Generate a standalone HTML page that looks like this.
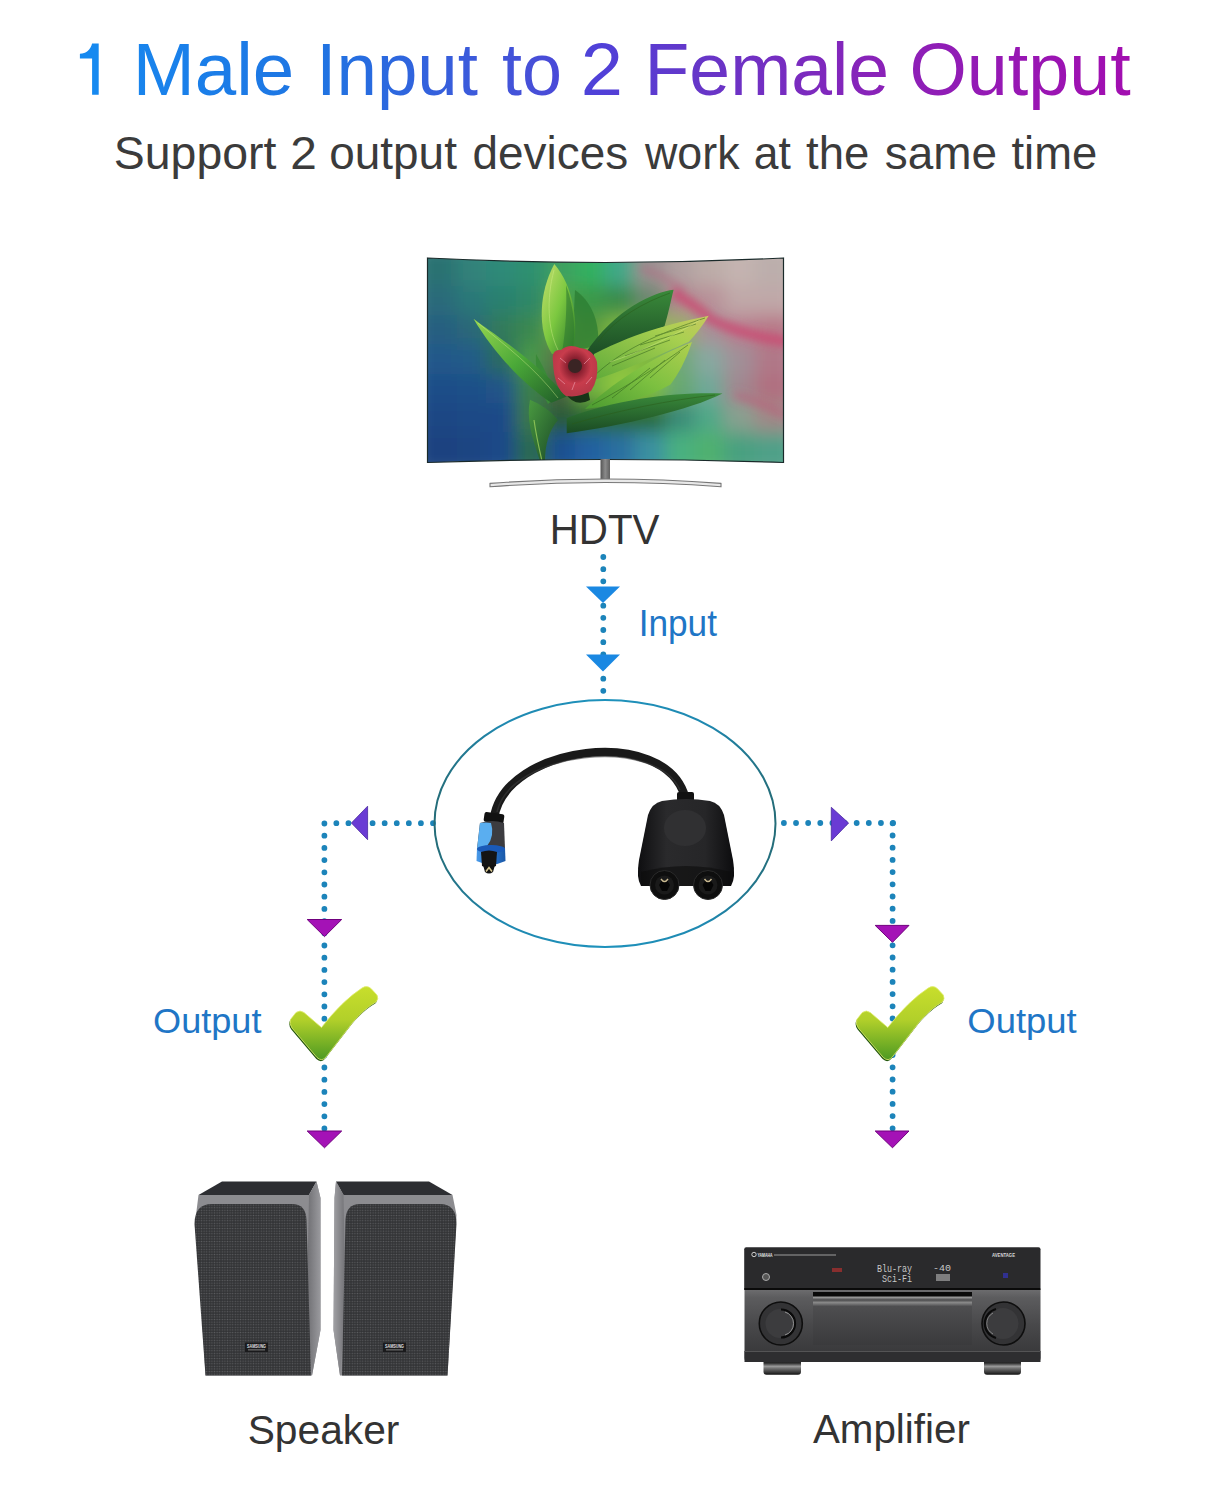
<!DOCTYPE html>
<html><head><meta charset="utf-8">
<style>
html,body{margin:0;padding:0;background:#fff;width:1211px;height:1500px;overflow:hidden}
svg{display:block}
svg{font-family:"Liberation Sans",sans-serif}
</style></head>
<body>
<svg width="1211" height="1500" viewBox="0 0 1211 1500">
<defs>
<linearGradient id="tg" gradientUnits="userSpaceOnUse" x1="80" y1="0" x2="1131" y2="0">
<stop offset="0" stop-color="#1689f0"/>
<stop offset="0.228" stop-color="#1f74e2"/>
<stop offset="0.428" stop-color="#4650d8"/>
<stop offset="0.495" stop-color="#5040d8"/>
<stop offset="0.59" stop-color="#6636c8"/>
<stop offset="0.76" stop-color="#8a22b8"/>
<stop offset="1" stop-color="#a20eb0"/>
</linearGradient>
</defs>
<!--TEXT-->
<path d="M79.9,53.8 C86,53.8 90.5,50 92.1,43.6 L98.7,43.6 L98.7,94.8 L92.1,94.8 L92.1,58.5 L79.9,58.5 Z" fill="#1689f0"/>
<text x="132.69" y="94.8" font-size="73.2" fill="url(#tg)" textLength="161.6" lengthAdjust="spacingAndGlyphs">Male</text>
<text x="316.34" y="94.8" font-size="73.2" fill="url(#tg)" textLength="161.64" lengthAdjust="spacingAndGlyphs">Input</text>
<text x="502.02" y="94.8" font-size="73.2" fill="url(#tg)" textLength="59.98" lengthAdjust="spacingAndGlyphs">to</text>
<text x="580.79" y="94.8" font-size="73.2" fill="url(#tg)" textLength="42.23" lengthAdjust="spacingAndGlyphs">2</text>
<text x="644.59" y="94.8" font-size="73.2" fill="url(#tg)" textLength="244.46" lengthAdjust="spacingAndGlyphs">Female</text>
<text x="909.48" y="94.8" font-size="73.2" fill="url(#tg)" textLength="221.24" lengthAdjust="spacingAndGlyphs">Output</text>
<text x="113.8" y="168.8" font-size="46.2" fill="#3b3b3b" textLength="162.58" lengthAdjust="spacingAndGlyphs">Support</text>
<text x="290.37" y="168.8" font-size="46.2" fill="#3b3b3b" textLength="26.58" lengthAdjust="spacingAndGlyphs">2</text>
<text x="329.21" y="168.8" font-size="46.2" fill="#3b3b3b" textLength="127.72" lengthAdjust="spacingAndGlyphs">output</text>
<text x="472.61" y="168.8" font-size="46.2" fill="#3b3b3b" textLength="155.5" lengthAdjust="spacingAndGlyphs">devices</text>
<text x="644.97" y="168.8" font-size="46.2" fill="#3b3b3b" textLength="94.58" lengthAdjust="spacingAndGlyphs">work</text>
<text x="753.74" y="168.8" font-size="46.2" fill="#3b3b3b" textLength="37.01" lengthAdjust="spacingAndGlyphs">at</text>
<text x="806.0" y="168.8" font-size="46.2" fill="#3b3b3b" textLength="63.3" lengthAdjust="spacingAndGlyphs">the</text>
<text x="884.7" y="168.8" font-size="46.2" fill="#3b3b3b" textLength="112.25" lengthAdjust="spacingAndGlyphs">same</text>
<text x="1011.5" y="168.8" font-size="46.2" fill="#3b3b3b" textLength="85.74" lengthAdjust="spacingAndGlyphs">time</text>
<text x="549.69" y="543.9" font-size="42.3" fill="#333" textLength="109.69" lengthAdjust="spacingAndGlyphs">HDTV</text>
<text x="638.64" y="636.2" font-size="36" fill="#1f76c6" textLength="78.35" lengthAdjust="spacingAndGlyphs">Input</text>
<text x="153.09" y="1032.5" font-size="35.8" fill="#1f76c6" textLength="108.37" lengthAdjust="spacingAndGlyphs">Output</text>
<text x="967.28" y="1032.5" font-size="35.8" fill="#1f76c6" textLength="109.48" lengthAdjust="spacingAndGlyphs">Output</text>
<text x="247.71" y="1443.5" font-size="41.2" fill="#333" textLength="151.72" lengthAdjust="spacingAndGlyphs">Speaker</text>
<text x="812.88" y="1443.4" font-size="41.2" fill="#333" textLength="156.96" lengthAdjust="spacingAndGlyphs">Amplifier</text>
<!--/TEXT-->

<!-- ===== TV ===== -->
<defs>
<clipPath id="scr"><path d="M427.5,258 Q605,267 783.5,258 L783.5,462.5 Q605,456.5 427.5,462.5 Z"/></clipPath>
<linearGradient id="tvbase" x1="0" y1="0" x2="1" y2="0">
<stop offset="0" stop-color="#2a6470"/>
<stop offset="0.3" stop-color="#2a7470"/>
<stop offset="0.5" stop-color="#2f9466"/>
<stop offset="0.72" stop-color="#6a9a88"/>
<stop offset="1" stop-color="#a08a94"/>
</linearGradient>
<filter id="blur8" x="-50%" y="-50%" width="200%" height="200%"><feGaussianBlur stdDeviation="9"/></filter>
<filter id="blur4" x="-50%" y="-50%" width="200%" height="200%"><feGaussianBlur stdDeviation="4"/></filter>
<linearGradient id="leafA" x1="0" y1="0" x2="1" y2="1">
<stop offset="0" stop-color="#9ad850"/>
<stop offset="0.5" stop-color="#4aa838"/>
<stop offset="1" stop-color="#1e5a28"/>
</linearGradient>
<linearGradient id="leafB" x1="0" y1="0" x2="1" y2="1">
<stop offset="0" stop-color="#c8e070"/>
<stop offset="0.5" stop-color="#7cc840"/>
<stop offset="1" stop-color="#2a7a2a"/>
</linearGradient>
<linearGradient id="leafC" x1="0" y1="0" x2="0" y2="1">
<stop offset="0" stop-color="#3a8a3a"/>
<stop offset="1" stop-color="#1a4a24"/>
</linearGradient>
<linearGradient id="leafD" x1="0" y1="0" x2="1" y2="1">
<stop offset="0" stop-color="#4a9a40"/><stop offset="1" stop-color="#1a4a28"/>
</linearGradient>
<linearGradient id="leafF" x1="1" y1="0" x2="0" y2="1">
<stop offset="0" stop-color="#c8c860"/><stop offset="0.3" stop-color="#a8d050"/><stop offset="1" stop-color="#5aa838"/>
</linearGradient>
<linearGradient id="leafE" x1="0" y1="1" x2="1" y2="0">
<stop offset="0" stop-color="#4a9a30"/><stop offset="0.5" stop-color="#7cc040"/><stop offset="1" stop-color="#b0d050"/>
</linearGradient>
<radialGradient id="flw" cx="0.5" cy="0.4" r="0.55">
<stop offset="0" stop-color="#3a1818"/>
<stop offset="0.3" stop-color="#8a2030"/>
<stop offset="0.65" stop-color="#c83c4c"/>
<stop offset="1" stop-color="#b83848"/>
</radialGradient>
<linearGradient id="standg" x1="0" y1="0" x2="1" y2="0">
<stop offset="0" stop-color="#555"/><stop offset="0.5" stop-color="#8a8a8a"/><stop offset="1" stop-color="#606060"/>
</linearGradient>
</defs>
<g clip-path="url(#scr)">
<g filter="url(#blur8)">
<rect x="412" y="242" width="45" height="45" fill="#2c7272"/>
<rect x="457" y="242" width="30" height="45" fill="#30827a"/>
<rect x="486" y="242" width="30" height="45" fill="#2f8a78"/>
<rect x="516" y="242" width="30" height="45" fill="#2f9070"/>
<rect x="546" y="242" width="30" height="45" fill="#40a060"/>
<rect x="575" y="242" width="30" height="45" fill="#30b060"/>
<rect x="605" y="242" width="30" height="45" fill="#40a888"/>
<rect x="635" y="242" width="30" height="45" fill="#9a9090"/>
<rect x="665" y="242" width="30" height="45" fill="#b0a0a0"/>
<rect x="694" y="242" width="30" height="45" fill="#bcaca8"/>
<rect x="724" y="242" width="30" height="45" fill="#c4b4b0"/>
<rect x="754" y="242" width="45" height="45" fill="#bcaeac"/>
<rect x="412" y="286" width="45" height="30" fill="#2a6a7a"/>
<rect x="457" y="286" width="30" height="30" fill="#2a7878"/>
<rect x="486" y="286" width="30" height="30" fill="#2a8070"/>
<rect x="516" y="286" width="30" height="30" fill="#2f8868"/>
<rect x="546" y="286" width="30" height="30" fill="#50a048"/>
<rect x="575" y="286" width="30" height="30" fill="#3a9848"/>
<rect x="605" y="286" width="30" height="30" fill="#3a8a48"/>
<rect x="635" y="286" width="30" height="30" fill="#6a8870"/>
<rect x="665" y="286" width="30" height="30" fill="#b08890"/>
<rect x="694" y="286" width="30" height="30" fill="#b89098"/>
<rect x="724" y="286" width="30" height="30" fill="#c0a8a8"/>
<rect x="754" y="286" width="45" height="30" fill="#c0a8a8"/>
<rect x="412" y="315" width="45" height="30" fill="#285e80"/>
<rect x="457" y="315" width="30" height="30" fill="#2a6878"/>
<rect x="486" y="315" width="30" height="30" fill="#307a5a"/>
<rect x="516" y="315" width="30" height="30" fill="#3a8850"/>
<rect x="546" y="315" width="30" height="30" fill="#6aa848"/>
<rect x="575" y="315" width="30" height="30" fill="#5a9a40"/>
<rect x="605" y="315" width="30" height="30" fill="#80b840"/>
<rect x="635" y="315" width="30" height="30" fill="#98c048"/>
<rect x="665" y="315" width="30" height="30" fill="#98b060"/>
<rect x="694" y="315" width="30" height="30" fill="#a89098"/>
<rect x="724" y="315" width="30" height="30" fill="#b88090"/>
<rect x="754" y="315" width="45" height="30" fill="#b87888"/>
<rect x="412" y="344" width="45" height="30" fill="#22588a"/>
<rect x="457" y="344" width="30" height="30" fill="#245c88"/>
<rect x="486" y="344" width="30" height="30" fill="#2a6a60"/>
<rect x="516" y="344" width="30" height="30" fill="#4a9848"/>
<rect x="546" y="344" width="30" height="30" fill="#5a7048"/>
<rect x="575" y="344" width="30" height="30" fill="#70b040"/>
<rect x="605" y="344" width="30" height="30" fill="#88c040"/>
<rect x="635" y="344" width="30" height="30" fill="#80b840"/>
<rect x="665" y="344" width="30" height="30" fill="#70a878"/>
<rect x="694" y="344" width="30" height="30" fill="#88a8a0"/>
<rect x="724" y="344" width="30" height="30" fill="#a09098"/>
<rect x="754" y="344" width="45" height="30" fill="#b07888"/>
<rect x="412" y="374" width="45" height="30" fill="#1e4e88"/>
<rect x="457" y="374" width="30" height="30" fill="#1f5088"/>
<rect x="486" y="374" width="30" height="30" fill="#205488"/>
<rect x="516" y="374" width="30" height="30" fill="#3a8048"/>
<rect x="546" y="374" width="30" height="30" fill="#4a6040"/>
<rect x="575" y="374" width="30" height="30" fill="#70b040"/>
<rect x="605" y="374" width="30" height="30" fill="#90c840"/>
<rect x="635" y="374" width="30" height="30" fill="#80c040"/>
<rect x="665" y="374" width="30" height="30" fill="#68a870"/>
<rect x="694" y="374" width="30" height="30" fill="#70a898"/>
<rect x="724" y="374" width="30" height="30" fill="#a08890"/>
<rect x="754" y="374" width="45" height="30" fill="#b07080"/>
<rect x="412" y="403" width="45" height="30" fill="#1c4684"/>
<rect x="457" y="403" width="30" height="30" fill="#1c4886"/>
<rect x="486" y="403" width="30" height="30" fill="#1e4a88"/>
<rect x="516" y="403" width="30" height="30" fill="#3a7848"/>
<rect x="546" y="403" width="30" height="30" fill="#2a5a38"/>
<rect x="575" y="403" width="30" height="30" fill="#2a6a30"/>
<rect x="605" y="403" width="30" height="30" fill="#2a6a30"/>
<rect x="635" y="403" width="30" height="30" fill="#2a6a38"/>
<rect x="665" y="403" width="30" height="30" fill="#3a8a78"/>
<rect x="694" y="403" width="30" height="30" fill="#50a888"/>
<rect x="724" y="403" width="30" height="30" fill="#88a090"/>
<rect x="754" y="403" width="45" height="30" fill="#a08888"/>
<rect x="412" y="432" width="45" height="45" fill="#1a4280"/>
<rect x="457" y="432" width="30" height="45" fill="#1a4482"/>
<rect x="486" y="432" width="30" height="45" fill="#1c4a88"/>
<rect x="516" y="432" width="30" height="45" fill="#2a6a50"/>
<rect x="546" y="432" width="30" height="45" fill="#1e5090"/>
<rect x="575" y="432" width="30" height="45" fill="#2060a0"/>
<rect x="605" y="432" width="30" height="45" fill="#2a70a0"/>
<rect x="635" y="432" width="30" height="45" fill="#3a90a0"/>
<rect x="665" y="432" width="30" height="45" fill="#48b080"/>
<rect x="694" y="432" width="30" height="45" fill="#50b070"/>
<rect x="724" y="432" width="30" height="45" fill="#48a080"/>
<rect x="754" y="432" width="45" height="45" fill="#50a088"/>
</g>
<g filter="url(#blur4)">
<path d="M672,292 Q695,305 712,320 Q745,336 790,342" stroke="#cc4470" stroke-width="9" fill="none" opacity="0.85"/>
<path d="M640,268 Q665,275 685,292" stroke="#b86080" stroke-width="6" fill="none" opacity="0.5"/>
<path d="M735,395 Q760,402 790,418" stroke="#c05878" stroke-width="6" fill="none" opacity="0.6"/>
</g>
<!-- leaves -->
<path d="M575,290 C590,300 600,320 598,345 L572,352 Z" fill="#2a7a30" opacity="0.7"/>
<path d="M536,354 C545,370 552,385 556,397 L548,404 C540,390 535,372 536,354 Z" fill="#3a8a38"/>
<path d="M473.5,318.7 C495,335 535,360 566.7,396.6 L551.4,402.8 C525,385 495,355 473.5,318.7 Z" fill="url(#leafA)"/>
<path d="M530,399.7 C526,418 532,438 540,461 L545,461 C545,445 549,430 558,420 C550,410 540,404 530,399.7 Z" fill="url(#leafD)"/>
<path d="M534,420 C536,435 539,448 542,461" stroke="#a8d860" stroke-width="1.2" fill="none" opacity="0.7"/>
<path d="M554.3,263.9 C539,292 537,330 552,354 L573,352 C579,320 573,286 554.3,263.9 Z" fill="url(#leafB)"/>
<path d="M566,285 C575,310 576,335 572,352 L562,352 C566,330 567,305 566,285 Z" fill="#2f7a30" opacity="0.6"/>
<path d="M673.6,289.7 C655,292 615,308 585,354 L600,358 C620,345 645,333 664.4,326.4 C668,315 671,300 673.6,289.7 Z" fill="url(#leafC)"/>
<path d="M708.7,315.7 C680,322 640,330 594,354 L588,382 C620,372 660,355 688.9,341.7 C697,333 703,325 708.7,315.7 Z" fill="url(#leafF)"/>
<path d="M585,409 C610,385 650,358 692,342 C686,360 678,375 670.5,384.4 C650,396 620,405 585,409 Z" fill="url(#leafE)"/>
<path d="M722.5,393.6 C680,392 620,398 566.7,418 L566.7,433.3 C622,426 690,410 722.5,393.6 Z" fill="url(#leafC)"/>
<g stroke="#2a5a18" stroke-width="0.9" fill="none" opacity="0.55">
<path d="M705,318 C660,333 620,350 592,378"/>
<path d="M696,324 L655,336 M684,332 L640,345 M670,340 L625,356 M655,348 L612,366"/>
<path d="M688,345 C660,365 630,385 592,405"/>
<path d="M680,352 L650,378 M665,360 L630,390 M650,368 L612,398"/>
<path d="M670,293 C645,302 615,318 598,342"/>
<path d="M715,395 C670,400 620,410 572,424"/>
</g>
<g stroke="#d8f090" stroke-width="0.9" fill="none" opacity="0.45">
<path d="M554,270 C546,300 548,330 558,350"/>
<path d="M478,323 C505,345 535,368 558,398"/>
<path d="M700,320 C670,338 640,352 610,362"/>
</g>
<path d="M565,393 Q575,408 590,400 L588,390 Z" fill="#183418"/>
<path d="M553,362 Q551,349 561,350 Q569,343 580,348 Q593,349 597,362 Q599,379 591,391 Q579,398 566,396 Q554,388 553,362 Z" fill="url(#flw)"/>
<g stroke="#f0a0b0" stroke-width="1" fill="none" opacity="0.6">
<path d="M558,378 L565,384 M586,384 L592,377 M560,358 L566,363 M590,358 L584,364 M572,390 L575,382"/>
</g>
<ellipse cx="575" cy="366" rx="7" ry="7" fill="#3a2424"/>
</g>
<path d="M427.5,258 Q605,267 783.5,258 L783.5,462.5 Q605,456.5 427.5,462.5 Z" fill="none" stroke="#1a2a2a" stroke-width="1.2"/>
<!-- stand -->
<rect x="600.5" y="459" width="9.5" height="21" fill="url(#standg)"/>
<path d="M490,483.4 Q605,474.6 721,483.4 L721,486.7 Q605,478.3 490,486.7 Z" fill="#e8e8e8" stroke="#777" stroke-width="1.1"/>


<!-- dotted lines -->
<g stroke="#1c84ba" stroke-width="5.8" stroke-linecap="round" fill="none">
<path d="M603.3,557 V695" stroke-dasharray="0 12.17"/>
<path d="M433,823.2 H324.3" stroke-dasharray="0 12.08"/>
<path d="M324.4,823.5 V1135" stroke-dasharray="0 12.2"/>
<path d="M783.9,823 H893.1" stroke-dasharray="0 12.13"/>
<path d="M892.6,823.3 V1135" stroke-dasharray="0 12.2"/>
</g>
<!-- ellipse -->
<defs><linearGradient id="ellg" gradientUnits="userSpaceOnUse" x1="434" y1="0" x2="776" y2="0">
<stop offset="0" stop-color="#246c78"/><stop offset="0.2" stop-color="#1f88b0"/><stop offset="0.5" stop-color="#1e92bc"/><stop offset="0.8" stop-color="#1f88b0"/><stop offset="1" stop-color="#246c78"/>
</linearGradient></defs>
<ellipse cx="605" cy="823.5" rx="170.5" ry="123.5" fill="none" stroke="url(#ellg)" stroke-width="2"/>

<!-- triangles -->
<g fill="#1a88e2">
<path d="M586,586.5 H620 L603,603 Z"/>
<path d="M586,654.5 H620 L603,671.5 Z"/>
</g>
<g fill="#6a3bd4" stroke="#4a2aa0" stroke-width="0.8">
<path d="M351.4,823 L367.6,806.2 V839.7 Z"/>
<path d="M848.6,823 L831.3,807.3 V840.9 Z"/>
</g>
<g fill="#a412b6" stroke="#70007e" stroke-width="1">
<path d="M307.2,919.5 H341.7 L324.5,936.6 Z"/>
<path d="M307.2,1131 H341.7 L324.5,1147.8 Z"/>
<path d="M875.2,925.4 H909 L892.5,942.3 Z"/>
<path d="M875.2,1131 H909 L892.5,1147.8 Z"/>
</g>
<!-- ===== SPLITTER ===== -->
<defs>
<linearGradient id="bodyg" x1="0" y1="0" x2="1" y2="0">
<stop offset="0" stop-color="#0e0e10"/>
<stop offset="0.3" stop-color="#2a2a2c"/>
<stop offset="0.7" stop-color="#262628"/>
<stop offset="1" stop-color="#0c0c0e"/>
</linearGradient>
<linearGradient id="plugg" x1="0" y1="0" x2="1" y2="0">
<stop offset="0" stop-color="#4a9ae8"/>
<stop offset="0.5" stop-color="#2a78d0"/>
<stop offset="1" stop-color="#1a58a8"/>
</linearGradient>
</defs>
<path d="M494,818 C505,745 665,725 685,797" fill="none" stroke="#1a1a1a" stroke-width="8.5"/>
<path d="M497,812 C510,752 655,735 680,790" fill="none" stroke="#3a3a3a" stroke-width="1.5" opacity="0.6"/>
<rect x="484" y="813" width="20" height="10" rx="2" fill="#111" transform="rotate(8 494 818)"/>
<path d="M480,823 Q492,819 504,823 L505,849 L477,849 Z" fill="#3c3c40"/>
<path d="M480,823 Q486,822 491,823 Q495,836 487,846 L477,849 Z" fill="#5aaef0"/>
<path d="M477,848 Q491,843 505,848 L505.5,861 Q491,868 476.5,861 Z" fill="url(#plugg)"/>
<ellipse cx="491" cy="849" rx="14" ry="4" fill="#1a5ab8"/>
<path d="M481,852 Q489,849 497,852 L496,866 Q489,869 482,866 Z" fill="#141414"/>
<path d="M483,865 L495,865 L493,872 Q489,875 485,872 Z" fill="#111"/>
<path d="M486,871.5 L489,867.5 L492,871.5" stroke="#d8c890" stroke-width="1.6" fill="none"/>
<rect x="677" y="792" width="17" height="10" rx="2" fill="#111"/>
<path d="M662,801 Q686,797 710,801 Q720,803 724,815 L733,860 Q736,878 731,886 L641,886 Q636,878 639,860 L648,815 Q652,803 662,801 Z" fill="url(#bodyg)"/>
<ellipse cx="685" cy="828" rx="21" ry="18" fill="#303032"/>
<path d="M641,872 Q686,860 731,872 L731,886 L641,886 Z" fill="#0c0c0c" opacity="0.6"/>
<circle cx="664.5" cy="885" r="14.5" fill="#0e0e0e" stroke="#2a2a2a" stroke-width="1"/>
<circle cx="708" cy="885" r="14.5" fill="#0e0e0e" stroke="#2a2a2a" stroke-width="1"/>
<circle cx="664.5" cy="885" r="9.5" fill="#1a1a1a"/>
<circle cx="708" cy="885" r="9.5" fill="#1a1a1a"/>
<path d="M659,885 L662,880 L667,880 L670,885 L667,891 L662,891 Z" fill="#050505"/>
<path d="M702.5,885 L705.5,880 L710.5,880 L713.5,885 L710.5,891 L705.5,891 Z" fill="#050505"/>
<path d="M661,879 Q664.5,884 668,879" fill="none" stroke="#c8b890" stroke-width="1.4"/>
<path d="M704.5,879 Q708,884 711.5,879" fill="none" stroke="#c8b890" stroke-width="1.4"/>

<!-- ===== CHECKS ===== -->
<defs>
<linearGradient id="chk" x1="0" y1="0" x2="0" y2="1">
<stop offset="0" stop-color="#c8de2c"/>
<stop offset="0.45" stop-color="#b2d02a"/>
<stop offset="1" stop-color="#4e9a22"/>
</linearGradient>
<path id="chkp" d="M290.5,1019.5 Q289,1024 292,1028 L317,1057.5 Q322,1062 326,1057 L353,1022 Q365,1008 376,1002 Q379,999 377,995 L371,988.5 Q367,985 362,988 Q342,1001 321.5,1027.5 L304,1012.5 Q300,1009.5 296,1012.5 Z"/>
</defs>
<g>
<use href="#chkp" fill="#24580e" transform="translate(-0.7,1.5)"/>
<use href="#chkp" fill="url(#chk)" stroke="#e2ee70" stroke-width="0.8"/>
</g>
<g transform="translate(566.3,0)">
<use href="#chkp" fill="#24580e" transform="translate(-0.7,1.5)"/>
<use href="#chkp" fill="url(#chk)" stroke="#e2ee70" stroke-width="0.8"/>
</g>

<!-- ===== SPEAKERS ===== -->
<defs>
<pattern id="mesh" width="2.6" height="2.6" patternUnits="userSpaceOnUse">
<rect width="2.6" height="2.6" fill="#333436"/>
<circle cx="1.3" cy="1.3" r="0.75" fill="#5a5b5e"/>
</pattern>
<linearGradient id="sideL" x1="0" y1="0" x2="1" y2="0">
<stop offset="0" stop-color="#6e6e72"/><stop offset="1" stop-color="#9a9a9e"/>
</linearGradient>
<linearGradient id="sideR" x1="0" y1="0" x2="1" y2="0">
<stop offset="0" stop-color="#a0a0a4"/><stop offset="1" stop-color="#707074"/>
</linearGradient>
</defs>
<g>
<path d="M222,1181.5 L316.5,1181.5 L309,1195 L198.5,1195 Z" fill="#2d2e32"/>
<path d="M198.5,1195 L309,1195 L316.5,1181.5 L320.5,1198 L320.5,1330 L312,1375.5 L205.5,1375.5 L196,1215 Z" fill="#8c8c90"/>
<path d="M309,1195 L316.5,1181.5 L320.5,1198 L320.5,1330 L312,1375.5 L307,1300 Z" fill="url(#sideL)"/>
<path d="M205.5,1375.5 L194.5,1224 Q194.5,1204 212,1204 L292,1204 Q306,1204 306.5,1220 L311,1375.5 Z" fill="url(#mesh)"/>
<rect x="245" y="1342.5" width="23" height="9.5" fill="#1a1a1c"/>
<text x="247" y="1348" font-size="5.5" font-weight="bold" fill="#e0e0e0" textLength="19" lengthAdjust="spacingAndGlyphs">SAMSUNG</text>
<rect x="248" y="1349.5" width="17" height="0.8" fill="#999"/>
</g>
<g>
<path d="M343.5,1195 L452.5,1195 L456.5,1215 L447.5,1375.5 L340,1375.5 L333.5,1330 L334.5,1198 L336,1181.5 Z" fill="#8c8c90"/>
<path d="M336,1181.5 L429,1181.5 L452.5,1195 L343.5,1195 Z" fill="#2d2e32"/>
<path d="M343.5,1195 L336,1181.5 L334.5,1198 L333.5,1330 L340,1375.5 L345.5,1300 Z" fill="url(#sideR)"/>
<path d="M342,1375.5 L345.5,1220 Q346,1204 360,1204 L440,1204 Q456.5,1204 456.5,1224 L447.5,1375.5 Z" fill="url(#mesh)"/>
<rect x="383" y="1342.5" width="23" height="9.5" fill="#1a1a1c"/>
<text x="385" y="1348" font-size="5.5" font-weight="bold" fill="#e0e0e0" textLength="19" lengthAdjust="spacingAndGlyphs">SAMSUNG</text>
<rect x="386" y="1349.5" width="17" height="0.8" fill="#999"/>
</g>

<!-- ===== AMPLIFIER ===== -->
<defs>
<linearGradient id="ampbody" x1="0" y1="0" x2="0" y2="1">
<stop offset="0" stop-color="#6e6e70"/>
<stop offset="0.12" stop-color="#5c5c5e"/>
<stop offset="0.5" stop-color="#48484a"/>
<stop offset="0.85" stop-color="#3a3a3c"/>
<stop offset="1" stop-color="#2a2a2c"/>
</linearGradient>
<linearGradient id="doorg" x1="0" y1="0" x2="0" y2="1">
<stop offset="0" stop-color="#0a0a0a"/>
<stop offset="0.07" stop-color="#0a0a0a"/>
<stop offset="0.1" stop-color="#9a9a9a"/>
<stop offset="0.15" stop-color="#4a4a4c"/>
<stop offset="0.2" stop-color="#8a8a8a"/>
<stop offset="0.27" stop-color="#4e4e50"/>
<stop offset="1" stop-color="#3a3a3c"/>
</linearGradient>
<linearGradient id="footg" x1="0" y1="0" x2="0" y2="1">
<stop offset="0" stop-color="#1a1a1a"/>
<stop offset="0.3" stop-color="#2a2a2a"/>
<stop offset="0.5" stop-color="#9a9a9a"/>
<stop offset="0.65" stop-color="#6a6a6a"/>
<stop offset="0.85" stop-color="#3a3a3a"/>
<stop offset="1" stop-color="#111"/>
</linearGradient>
<radialGradient id="knobg" cx="0.4" cy="0.35" r="0.7">
<stop offset="0" stop-color="#4a4a4c"/>
<stop offset="1" stop-color="#1e1e20"/>
</radialGradient>
</defs>
<rect x="763.5" y="1358" width="37.5" height="16.7" rx="3" fill="url(#footg)"/>
<rect x="984" y="1358" width="37" height="16.7" rx="3" fill="url(#footg)"/>
<path d="M744.5,1289 L1040.5,1289 L1040.5,1358 Q1040.5,1362 1036,1362 L749,1362 Q744.5,1362 744.5,1358 Z" fill="url(#ampbody)"/>
<rect x="744.2" y="1247.2" width="296.3" height="42.3" rx="2" fill="#2a2a2c"/>
<rect x="744.2" y="1288" width="296.3" height="2" fill="#0a0a0a"/>
<rect x="813" y="1292" width="159" height="53" fill="url(#doorg)"/>
<rect x="744.5" y="1351" width="296" height="11" fill="#2e2e30"/>
<rect x="744.5" y="1351" width="296" height="0.8" fill="#5e5e60"/>
<circle cx="780.8" cy="1323.5" r="21.5" fill="#333335" stroke="#0e0e0e" stroke-width="1.6"/>
<circle cx="780" cy="1323.5" r="14.5" fill="#3c3c3e"/>
<path d="M781,1309.5 A14,14 0 0 1 781,1337.5" fill="none" stroke="#0a0a0a" stroke-width="2.2"/>
<path d="M785,1312 A12,12 0 0 1 785,1335" fill="none" stroke="#b8b8b8" stroke-width="1" opacity="0.7"/>
<circle cx="1003.5" cy="1323.5" r="21.5" fill="#333335" stroke="#0e0e0e" stroke-width="1.6"/>
<circle cx="1003" cy="1323.5" r="15.5" fill="#3c3c3e"/>
<path d="M996,1309 A15,15 0 0 0 996,1338" fill="none" stroke="#0a0a0a" stroke-width="2.2"/>
<path d="M993,1313 A12,12 0 0 0 993,1334" fill="none" stroke="#b8b8b8" stroke-width="1" opacity="0.6"/>
<g style="font-family:'Liberation Mono',monospace" fill="#c8c8c8" font-size="11">
<text x="877" y="1271.5" textLength="35" lengthAdjust="spacingAndGlyphs">Blu-ray</text>
<text x="882" y="1281.5" textLength="30" lengthAdjust="spacingAndGlyphs">Sci-Fi</text>
<text x="933" y="1271" font-size="9" textLength="18" lengthAdjust="spacingAndGlyphs">-40</text>
</g>
<rect x="936" y="1274" width="14" height="7" fill="#b8b8b8" opacity="0.6"/>
<circle cx="754" cy="1254.5" r="2.2" fill="none" stroke="#ddd" stroke-width="0.9"/><text x="757.5" y="1257" font-size="6" font-weight="bold" fill="#e8e8e8" textLength="15" lengthAdjust="spacingAndGlyphs">YAMAHA</text>
<rect x="774" y="1254" width="62" height="2" fill="#8a8a8a" opacity="0.6"/>
<text x="992" y="1256.5" font-size="5" font-weight="bold" fill="#d8d8d8" textLength="23" lengthAdjust="spacingAndGlyphs">AVENTAGE</text>
<circle cx="766" cy="1277" r="3.5" fill="#555" stroke="#aaa" stroke-width="1"/>
<rect x="832" y="1268" width="10" height="4" fill="#a03030" opacity="0.8"/>
<rect x="1003" y="1273" width="5" height="5" fill="#303090"/>

</svg>
</body></html>
